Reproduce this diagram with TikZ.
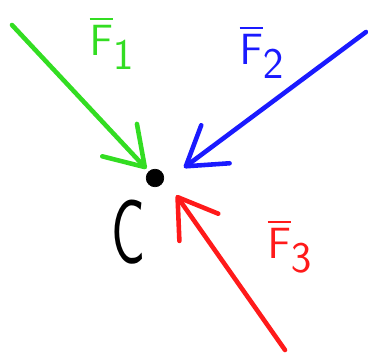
\documentclass[tikz,border=0pt]{standalone}
\usepackage{amsmath}
\usepackage{xcolor}
\usetikzlibrary{positioning,arrows.meta}
\definecolor{fgreen}{RGB}{51,221,34}
\definecolor{fblue}{RGB}{26,26,255}
\definecolor{fred}{RGB}{255,26,26}
\tikzset{%
point/.style={draw,fill,circle,minimum size=10pt,inner sep=0pt},
force/.style={line width=2.6pt,line cap=round,line join=round,-{Straight Barb[round,length=21pt,width=27pt]}},
forcelabel/.style={font=\fontsize{36}{40}\selectfont,inner sep=0pt},
pointlabel/.style={font=\fontsize{52}{58}\selectfont\sffamily,inner sep=0pt,xscale=0.62}
}
\begin{document}
\begin{tikzpicture}[x=0.02cm,y=-0.02cm]

    \useasboundingbox (0,0) rectangle (368,358);

    \node[point] (c) at (155,178) {};
    \node[pointlabel] (lblc) [below left=0.3cm and 0.06cm of c] {C};

    \coordinate (f1tail) at (12,25);
    \coordinate (f2tail) at (366,32);
    \coordinate (f3tail) at (285,350);

    \draw[force,fgreen,shorten >=2pt] (f1tail) -- (c);
    \draw[force,fblue,shorten >=16pt] (f2tail) -- (c.south east);
    \draw[force,fred,shorten >=12pt] (f3tail) -- (c.east);

    \node[forcelabel,text=fgreen] (lbl1) at (112,43) {$\overline{\mathsf{F}}_{\mathsf{1}}$};
    \node[forcelabel,text=fblue] (lbl2) at (262,52) {$\overline{\mathsf{F}}_{\mathsf{2}}$};
    \node[forcelabel,text=fred] (lbl3) at (290,246) {$\overline{\mathsf{F}}_{\mathsf{3}}$};

  \end{tikzpicture}
\end{document}
